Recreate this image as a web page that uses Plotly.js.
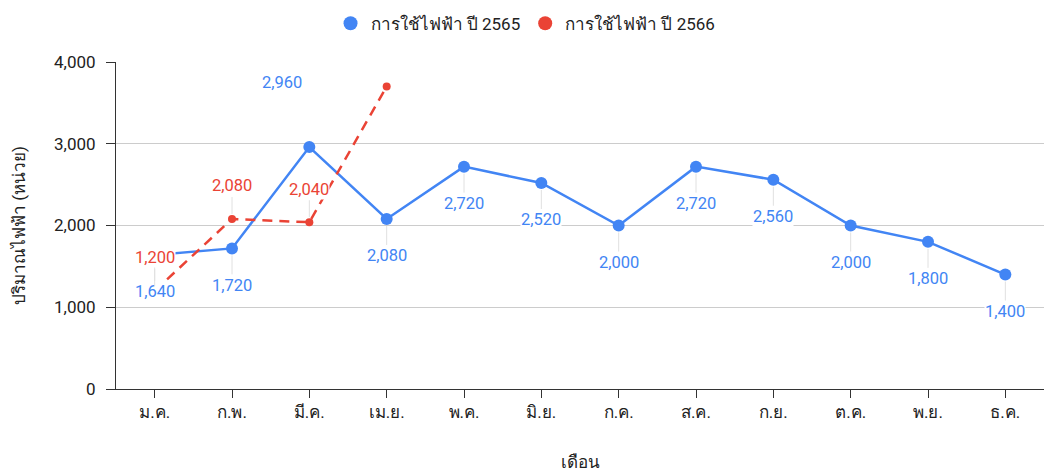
<!DOCTYPE html>
<html>
<head>
<meta charset="utf-8">
<script src="https://cdn.plot.ly/plotly-3.0.1.min.js"></script>
<style>html,body{margin:0;padding:0;background:#fff;}#chart{width:1046px;height:472px;}</style>
</head>
<body>
<div id="chart"></div>
<script>
const months = ["ม.ค.","ก.พ.","มี.ค.","เม.ย.","พ.ค.","มิ.ย.","ก.ค.","ส.ค.","ก.ย.","ต.ค.","พ.ย.","ธ.ค."];
const usage2565 = [1640, 1720, 2960, 2080, 2720, 2520, 2000, 2720, 2560, 2000, 1800, 1400];
const usage2566 = [1200, 2080, 2040, 3700];
const name2565 = "การใช้ไฟฟ้า ปี 2565";
const name2566 = "การใช้ไฟฟ้า ปี 2566";
const yTicks = [0, 1000, 2000, 3000, 4000];

const BLUE = "#4285F4", RED = "#EA4335";
const FONT = "Roboto, 'Noto Sans', sans-serif";

const fmt = v => v.toLocaleString("en-US");

const traces = [
  {x: months, y: usage2565, type: "scatter", mode: "lines+markers", name: name2565, showlegend: false,
   line: {color: BLUE, width: 2.5}, marker: {color: BLUE, size: 12}},
  {x: months.slice(0, usage2566.length), y: usage2566, type: "scatter", mode: "lines+markers", name: name2566, showlegend: false,
   line: {color: RED, width: 2.5, dash: "10px,7px"}, marker: {color: RED, size: 8}},
  {x: [null], y: [null], type: "scatter", mode: "markers", name: name2565, marker: {color: BLUE, size: 14}},
  {x: [null], y: [null], type: "scatter", mode: "markers", name: name2566, marker: {color: RED, size: 14}}
];

const annotations = [];
const maxIdx = usage2565.indexOf(Math.max(...usage2565));
usage2565.forEach((v, i) => {
  const above = i === maxIdx;
  annotations.push({
    x: months[i], y: v, text: fmt(v), showarrow: true, arrowhead: 0, arrowwidth: 1,
    arrowcolor: above ? "rgba(0,0,0,0)" : "#e0e0e0",
    ax: above ? -27 : 0, ay: above ? -65 : 37, standoff: 7, startstandoff: 1,
    bgcolor: "#fff", borderpad: 0,
    font: {family: FONT, size: 16.5, color: BLUE}
  });
});
usage2566.slice(0, 3).forEach((v, i) => {
  annotations.push({
    x: months[i], y: v, text: fmt(v), showarrow: true, arrowhead: 0, arrowwidth: 1,
    arrowcolor: "#e0e0e0", ax: 0, ay: -33, standoff: 5, startstandoff: 1,
    bgcolor: "#fff", borderpad: 0,
    font: {family: FONT, size: 16.5, color: RED}
  });
});

const layout = {
  width: 1046, height: 472,
  margin: {l: 116, r: 2, t: 62, b: 83},
  paper_bgcolor: "#fff", plot_bgcolor: "#fff",
  font: {family: FONT, size: 16, color: "#222"},
  showlegend: true,
  legend: {orientation: "h", xref: "container", yref: "container", x: 0.316, xanchor: "left", y: 0.988, yanchor: "top",
           font: {family: FONT, size: 17, color: "#222"}, itemclick: false},
  xaxis: {
    type: "category", range: [-0.5, 11.5], showgrid: false, zeroline: false,
    showline: true, linecolor: "#333", linewidth: 1,
    ticks: "outside", ticklen: 8, tickcolor: "#333",
    tickfont: {family: FONT, size: 17, color: "#222"},
    title: {text: "เดือน", font: {family: FONT, size: 17, color: "#222"}, standoff: 36}
  },
  yaxis: {
    range: [0, 4000], tickvals: yTicks, ticktext: yTicks.map(fmt),
    showgrid: true, gridcolor: "#cccccc", zeroline: false,
    showline: true, linecolor: "#333", linewidth: 1,
    ticks: "outside", ticklen: 9, tickcolor: "#333", ticklabelstandoff: 7,
    tickfont: {family: FONT, size: 17, color: "#222"},
    title: {text: "ปริมาณไฟฟ้า (หน่วย)", font: {family: FONT, size: 17, color: "#222"}, standoff: 24}
  },
  annotations: annotations
};

Plotly.newPlot("chart", traces, layout, {displayModeBar: false, staticPlot: true});
</script>
</body>
</html>
